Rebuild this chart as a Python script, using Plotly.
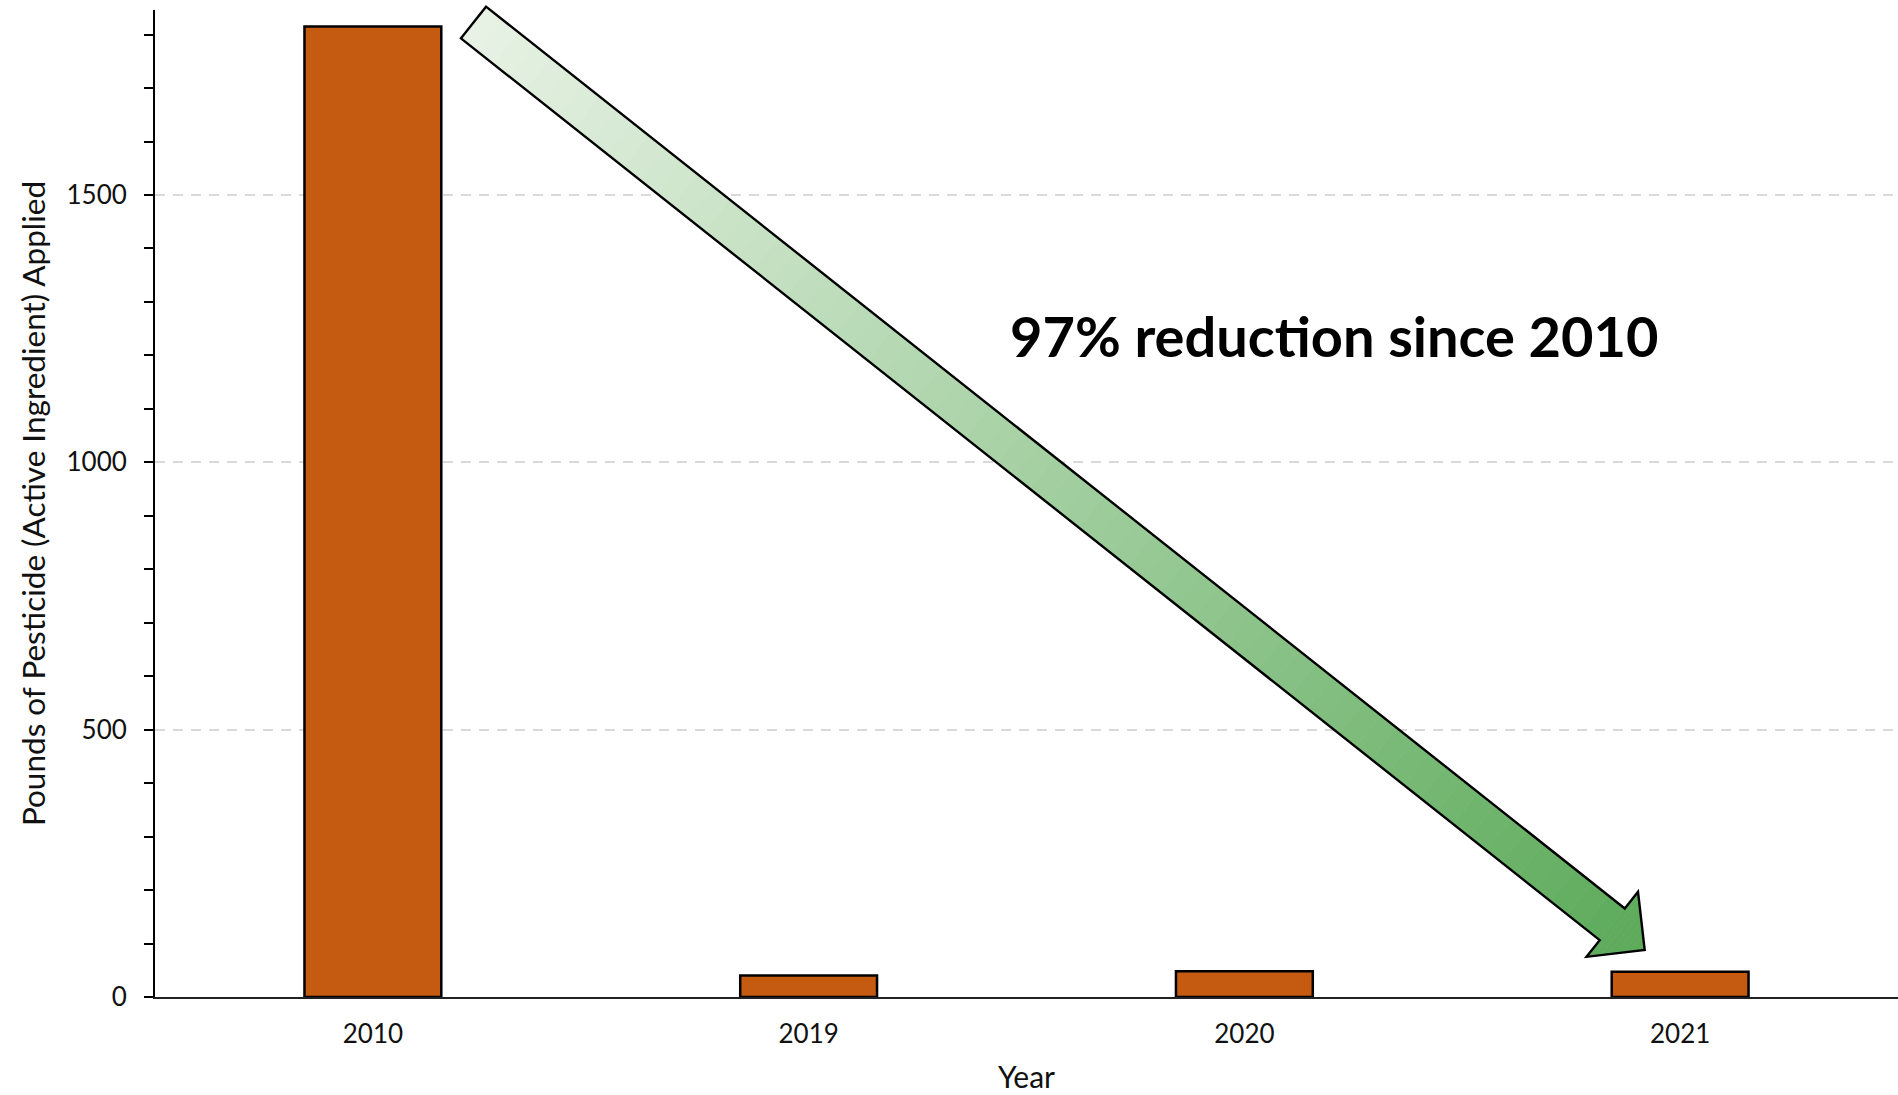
import plotly.graph_objects as go

# ---- data ----
years = ["2010", "2019", "2020", "2021"]
pounds_applied = [1815, 40, 48, 47]
y_tick_values = [0, 500, 1000, 1500]
y_tick_labels = ["0", "500", "1000", "1500"]
annotation_text = "97% reduction since 2010"
x_title = "Year"
y_title = "Pounds of Pesticide (Active Ingredient) Applied"

# ---- layout geometry (pixels) ----
W, H = 1898, 1095
ML, MR, MT, MB = 155, 0, 10, 98
PW, PH = W - ML - MR, H - MT - MB
Y_MAX = 1846

FONT = "Lato"
BAR_COLOR = "#c45b11"


def to_paper(px, py):
    return (px - ML) / PW, (H - MB - py) / PH


fig = go.Figure()
fig.add_trace(go.Bar(
    x=years, y=pounds_applied, width=0.314,
    marker=dict(color=BAR_COLOR, line=dict(color="black", width=2.5)),
    showlegend=False, hoverinfo="x+y",
))

# ---- gradient arrow (annotation graphic) ----
tail = (473.5, 22.5)
tip = (1644.7, 950.0)
shaft_hw = 20.2
head_hw = 41.5
head_len = 41.4
dx, dy = tip[0] - tail[0], tip[1] - tail[1]
L = (dx ** 2 + dy ** 2) ** 0.5
ux, uy = dx / L, dy / L
nx, ny = -uy, ux
shaft_len = L - head_len

c0 = (232, 243, 229)
c1 = (92, 170, 90)


def pt(s, off):
    px = tail[0] + s * ux + off * nx
    py = tail[1] + s * uy + off * ny
    return to_paper(px, py)


def path_of(points):
    return "M " + " L ".join(f"{x:.6f},{y:.6f}" for x, y in points) + " Z"


shapes = []
breaks = [shaft_len * i / 70 for i in range(71)] + [shaft_len + head_len * i / 8 for i in range(1, 9)]
for i in range(len(breaks) - 1):
    s0, s1 = breaks[i], breaks[i + 1]
    t = (0.5 * (s0 + s1)) / L
    col = "rgb(%d,%d,%d)" % tuple(round(a + (b - a) * t) for a, b in zip(c0, c1))
    if s0 >= shaft_len - 1e-9:
        h0 = head_hw * (L - s0) / head_len
        h1 = head_hw * (L - s1) / head_len
    else:
        h0 = h1 = shaft_hw
    pts = [pt(s0, -h0), pt(s1, -h1), pt(s1, h1), pt(s0, h0)]
    shapes.append(dict(type="path", xref="paper", yref="paper", path=path_of(pts),
                       fillcolor=col, line=dict(color=col, width=0.8), layer="above"))

outline = [pt(0, -shaft_hw), pt(shaft_len, -shaft_hw), pt(shaft_len, -head_hw), pt(L, 0),
           pt(shaft_len, head_hw), pt(shaft_len, shaft_hw), pt(0, shaft_hw)]
shapes.append(dict(type="path", xref="paper", yref="paper", path=path_of(outline),
                   fillcolor="rgba(0,0,0,0)", line=dict(color="black", width=2.4), layer="above"))

tx, ty = to_paper(1334, 336)

fig.update_layout(
    width=W, height=H,
    margin=dict(l=ML, r=MR, t=MT, b=MB, pad=0, autoexpand=False),
    paper_bgcolor="white", plot_bgcolor="white",
    font=dict(family=FONT, size=26, color="#111111"),
    shapes=shapes,
    annotations=[dict(text=f"<b>{annotation_text}</b>", xref="paper", yref="paper",
                      x=tx, y=ty, xanchor="center", yanchor="middle", showarrow=False,
                      font=dict(family=FONT, size=56, color="black"))],
    xaxis=dict(
        range=[-0.5, 3.5], type="category", showline=True, linecolor="#222222", linewidth=2,
        ticks="", showgrid=False, zeroline=False, ticklabelstandoff=13,
        tickfont=dict(size=26, color="#111111"),
        title=dict(text=x_title, font=dict(size=30, color="#111111"), standoff=19),
        automargin=False,
    ),
    yaxis=dict(
        range=[0, Y_MAX], tickvals=y_tick_values, ticktext=y_tick_labels,
        ticks="outside", ticklen=9, tickwidth=1.6, tickcolor="black",
        showline=True, linecolor="black", linewidth=2,
        showgrid=True, gridcolor="#d9d9d9", gridwidth=2, griddash="10px,8px",
        zeroline=False, ticklabelstandoff=12,
        minor=dict(dtick=100, tick0=0, ticks="outside", ticklen=9, tickwidth=1.6,
                   tickcolor="black", showgrid=False),
        tickfont=dict(size=26, color="#111111"),
        title=dict(text=y_title, font=dict(size=31.5, color="#111111"), standoff=11),
        automargin=False,
    ),
    bargap=0.686,
)

fig.write_html("out.html", config={"displayModeBar": False},
               post_script="document.body.style.margin='0';document.body.style.overflow='hidden';")
